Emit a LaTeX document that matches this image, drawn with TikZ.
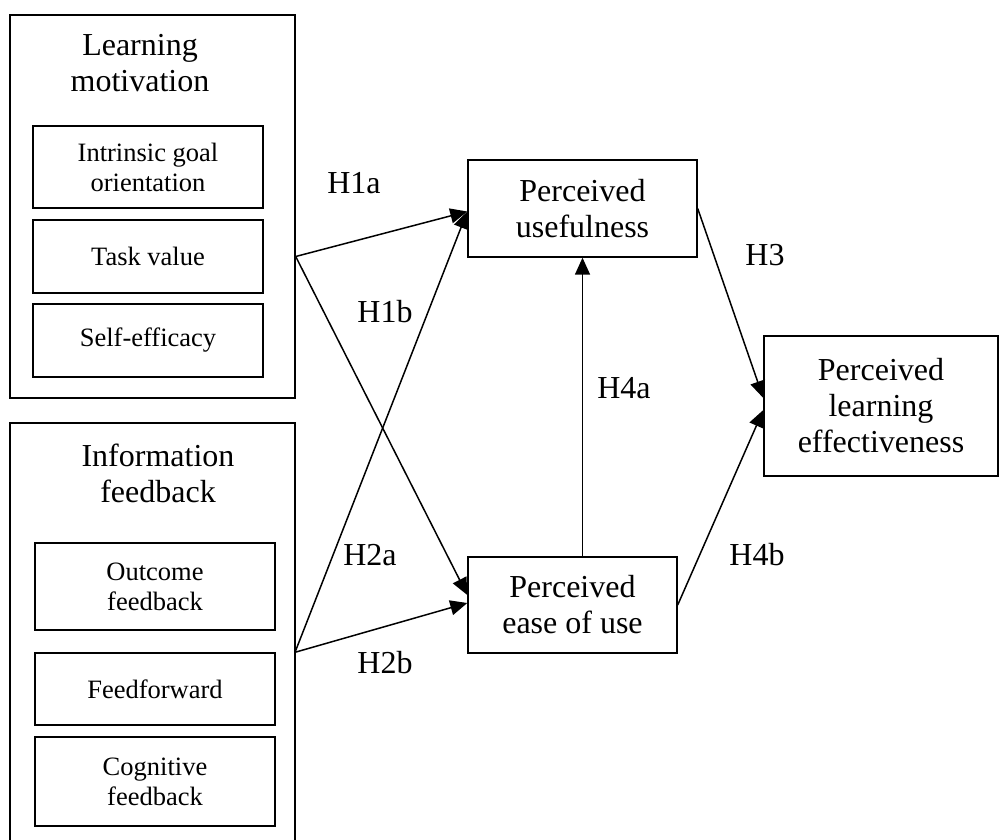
\documentclass[tikz,border=0pt]{standalone}
\usepackage{fontspec}
\setmainfont{Liberation Serif}
\usetikzlibrary{arrows.meta,calc}
\begin{document}
\begin{tikzpicture}[x=1pt,y=-1pt,
  box/.style={draw, line width=1.4pt, inner sep=0pt, align=center},
  big/.style={font=\fontsize{32}{36}\selectfont},
  small/.style={font=\fontsize{26.5}{30}\selectfont},
  lbl/.style={font=\fontsize{32}{36}\selectfont, inner sep=0pt},
  arr/.style={line width=1.5pt, -{Triangle[length=17pt,width=15pt]}}]
\useasboundingbox (0,0) rectangle (999,840);

% Learning motivation group
\node[box, minimum width=285pt, minimum height=383pt] (lm) at (152.5,206.5) {};
\node[big, align=center, inner sep=0pt] (lmt) at (140,63) {Learning\\motivation};
\node[box, small, minimum width=230pt, minimum height=82pt] (igo) at (148,167) {Intrinsic goal\\orientation};
\node[box, small, minimum width=230pt, minimum height=73pt] (tv) at (148,256.5) {Task value};
\node[box, small, minimum width=230pt, minimum height=73pt] (se) at (148,340.5) {Self-efficacy};

% Information feedback group (open at the bottom)
\coordinate (ifne) at (295,423);
\draw[line width=1.4pt] (10,842) |- (ifne) -- (295,842);
\node[big, align=center, inner sep=0pt] (ift) at (158,473) {Information\\feedback};
\node[box, small, minimum width=240pt, minimum height=87pt] (of) at (155,586.5) {Outcome\\feedback};
\node[box, small, minimum width=240pt, minimum height=72pt] (ff) at (155,689) {Feedforward};
\node[box, small, minimum width=240pt, minimum height=89pt] (cf) at (155,781.5) {Cognitive\\feedback};

% Constructs
\node[box, big, minimum width=229pt, minimum height=97pt] (pu) at (582.5,208.5) {Perceived\\usefulness};
\node[box, big, minimum width=209pt, minimum height=96pt] (peou) at (572.5,605) {Perceived\\ease of use};
\node[box, big, minimum width=234pt, minimum height=140pt] (ple) at (881,406) {Perceived\\learning\\effectiveness};

% Connector start points
\coordinate (lmo) at (lm.east |- tv.east);
\coordinate (ifo) at (ifne |- ff.north);

% Arrows
\draw[arr] (lmo) -- ($(pu.west)+(0,3)$);
\draw[arr] (lmo) -- ($(peou.west)+(0,-10)$);
\draw[arr] (ifo) -- ($(pu.west)+(0,3)$);
\draw[arr] (ifo) -- ($(peou.west)+(0,-2)$);
\draw[arr] (pu.south |- peou.north) -- (pu.south);
\draw[arr] (pu.east) -- ($(ple.west)+(0,-8)$);
\draw[arr] (peou.east) -- ($(ple.west)+(0,4)$);

% Labels
\node[lbl] (h1a) at (354,183) {H1a};
\node[lbl] (h1b) at (385,312) {H1b};
\node[lbl] (h2a) at (370,555) {H2a};
\node[lbl] (h2b) at (385,663) {H2b};
\node[lbl] (h4a) at (624,388) {H4a};
\node[lbl] (h3) at (765,255) {H3};
\node[lbl] (h4b) at (757,555) {H4b};
\end{tikzpicture}
\end{document}
